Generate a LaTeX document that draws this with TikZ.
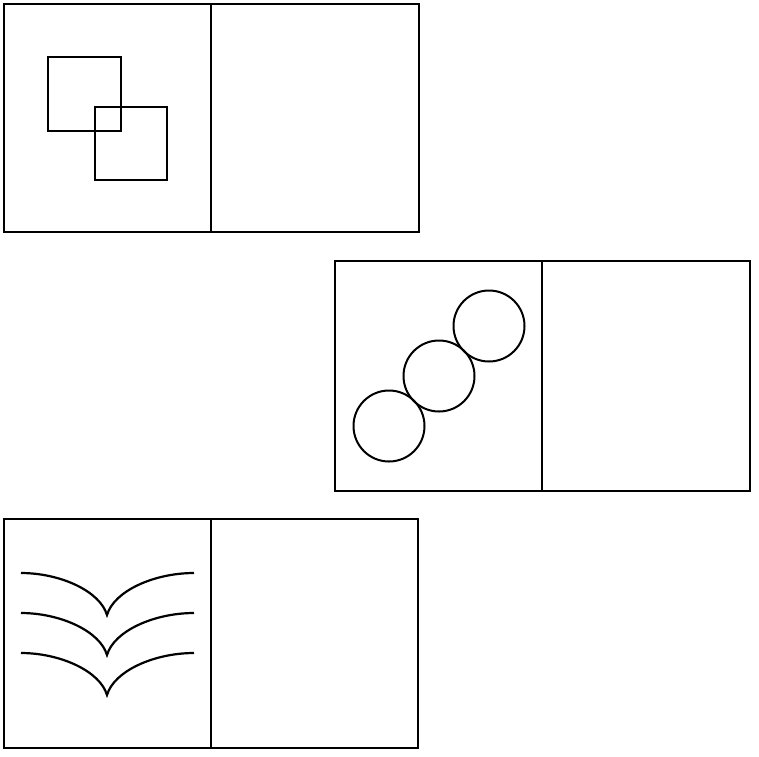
\documentclass[tikz,border=0pt]{standalone}
\begin{document}
\begin{tikzpicture}[x=1pt,y=-1pt,
  frame/.style={line width=2.2pt,black},
  shape line/.style={line width=2pt,black},
  curve/.style={line width=2.2pt,black}]
\useasboundingbox (0,0) rectangle (759,756);
% top-left panel
\draw[frame] (4,4) rectangle (419,232);
\draw[frame] (211,4) -- (211,232);
\draw[shape line] (48,57) rectangle (121,131);
\draw[shape line] (95,107) rectangle (167,180);
% middle-right panel
\draw[frame] (335,261) rectangle (750,491);
\draw[frame] (542,261) -- (542,491);
\draw[shape line] (489,326) circle (35.5);
\draw[shape line] (439,376) circle (35.5);
\draw[shape line] (389,426) circle (35.5);
% bottom-left panel
\draw[frame] (4,519) rectangle (418,748);
\draw[frame] (211,519) -- (211,748);
\foreach \y in {573,613,653}{
  \draw[curve,line join=miter,miter limit=20] (21,\y) .. controls (60,\y) and (100,\y+18) .. (107,\y+42)
               .. controls (114,\y+18) and (154,\y) .. (194,\y);
}
\end{tikzpicture}
\end{document}
